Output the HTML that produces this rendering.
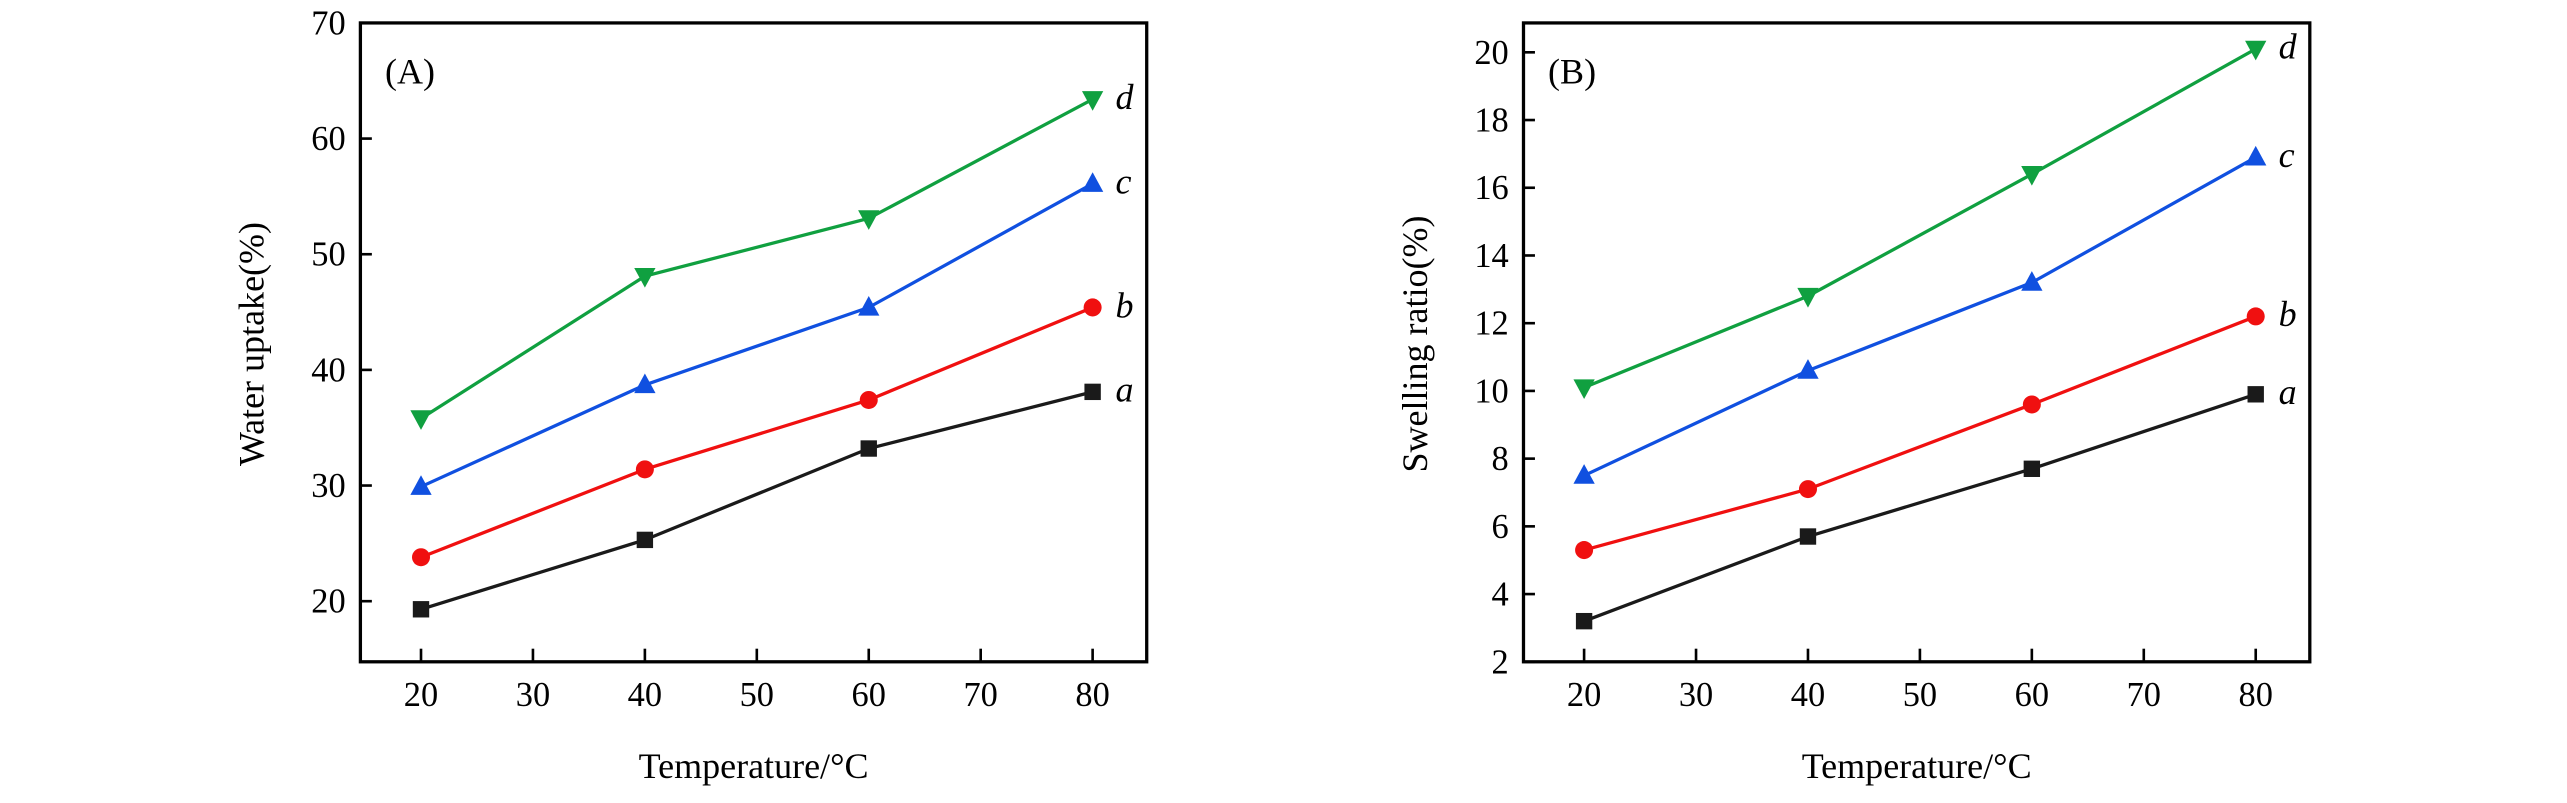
<!DOCTYPE html>
<html><head><meta charset="utf-8"><style>
html,body{margin:0;padding:0;background:#fff;}
svg{display:block;}
text{font-family:"Liberation Serif",serif;fill:#000;}
</style></head><body>
<svg id="fig" width="2567" height="803" viewBox="0 0 1567 490.2" preserveAspectRatio="none" xmlns="http://www.w3.org/2000/svg"></svg>
<script>
const temps = [20, 40, 60, 80];
const xTicks = [20, 30, 40, 50, 60, 70, 80];
const seriesNames = ['a', 'b', 'c', 'd'];
const colors = ['#1a1a1a', '#f01010', '#1050e0', '#10a040'];
const markers = ['square', 'circle', 'up', 'down'];
const uptakeA = [19.3, 25.3, 33.2, 38.1];
const uptakeB = [23.8, 31.4, 37.4, 45.4];
const uptakeC = [29.9, 38.7, 45.4, 56.1];
const uptakeD = [35.8, 48.1, 53.1, 63.4];
const uptakeTicks = [20, 30, 40, 50, 60, 70];
const swellA = [3.2, 5.7, 7.7, 9.9];
const swellB = [5.3, 7.1, 9.6, 12.2];
const swellC = [7.5, 10.6, 13.2, 16.9];
const swellD = [10.1, 12.8, 16.4, 20.1];
const swellTicks = [2, 4, 6, 8, 10, 12, 14, 16, 18, 20];

const NS = 'http://www.w3.org/2000/svg';
const svg = document.getElementById('fig');
function mk(tag, attrs, parent) {
  const e = document.createElementNS(NS, tag);
  for (const k in attrs) e.setAttribute(k, attrs[k]);
  (parent || svg).appendChild(e);
  return e;
}

function panel(opt) {
  const g = mk('g', {});
  
  
  const L = opt.left, R = opt.left + 480, T = 14, B = 404;
  const xs = v => L + 37 + (v - 20) * 6.833;
  const ys = v => opt.y0px - (v - opt.y0) * opt.pxPer;
  const frame = mk('rect', {x: L, y: T, width: R - L, height: B - T, fill: 'none', stroke: '#000', 'stroke-width': 2}, g);
  
  
  xTicks.forEach(v => {
    const t = mk('line', {x1: xs(v), x2: xs(v), y1: B, y2: B - 8, stroke: '#000', 'stroke-width': 1.6}, g);
    
    
    const lb = mk('text', {x: xs(v), y: 431, 'text-anchor': 'middle', 'font-size': 21}, g);
    lb.textContent = v;
    
    
  });
  opt.ticks.forEach(v => {
    const t = mk('line', {x1: L, x2: L + 7, y1: ys(v), y2: ys(v), stroke: '#000', 'stroke-width': 1.6}, g);
    
    
    const lb = mk('text', {x: L - 9, y: ys(v) + 7, 'text-anchor': 'end', 'font-size': 21}, g);
    lb.textContent = v;
    
    
  });
  const xt = mk('text', {x: L + 240, y: 475, 'text-anchor': 'middle', 'font-size': 22}, g);
  xt.textContent = 'Temperature/°C';
  
  
  const yt = mk('text', {x: 0, y: 0, 'text-anchor': 'middle', 'font-size': 22, transform: `translate(${opt.ytx},210) rotate(-90)`}, g);
  yt.textContent = opt.ytitle;
  
  
  const pl = mk('text', {x: L + 15, y: 51, 'font-size': 22}, g);
  pl.textContent = opt.label;
  
  
  opt.series.forEach((vals, i) => {
    const sg = mk('g', {}, g);
    
    
    const pts = vals.map((v, j) => xs(temps[j]) + ',' + ys(v)).join(' ');
    const ln = mk('polyline', {points: pts, fill: 'none', stroke: colors[i], 'stroke-width': 2}, sg);
    
    
    vals.forEach((v, j) => {
      const cx = xs(temps[j]), cy = ys(v);
      let m;
      if (markers[i] === 'square') m = mk('rect', {x: cx - 5, y: cy - 5, width: 10, height: 10, fill: colors[i]}, sg);
      else if (markers[i] === 'circle') m = mk('circle', {cx: cx, cy: cy, r: 5.5, fill: colors[i]}, sg);
      else if (markers[i] === 'up') m = mk('polygon', {points: `${cx},${cy - 7} ${cx - 6.5},${cy + 5} ${cx + 6.5},${cy + 5}`, fill: colors[i]}, sg);
      else m = mk('polygon', {points: `${cx},${cy + 7} ${cx - 6.5},${cy - 5} ${cx + 6.5},${cy - 5}`, fill: colors[i]}, sg);
      
      
    });
    const last = vals[vals.length - 1];
    const sl = mk('text', {x: xs(80) + 14, y: ys(last) + 6, 'font-size': 22, 'font-style': 'italic'}, sg);
    sl.textContent = seriesNames[i];
    
    
  });
}

panel({name: 'chart-water-uptake', left: 220, y0: 20, y0px: 367, pxPer: 7.06, ticks: uptakeTicks,
  series: [uptakeA, uptakeB, uptakeC, uptakeD], ytitle: 'Water uptake(%)', ytx: 161, label: '(A)'});
panel({name: 'chart-swelling-ratio', left: 930, y0: 2, y0px: 404, pxPer: 20.67, ticks: swellTicks,
  series: [swellA, swellB, swellC, swellD], ytitle: 'Swelling ratio(%)', ytx: 871, label: '(B)'});
</script>
</body></html>
